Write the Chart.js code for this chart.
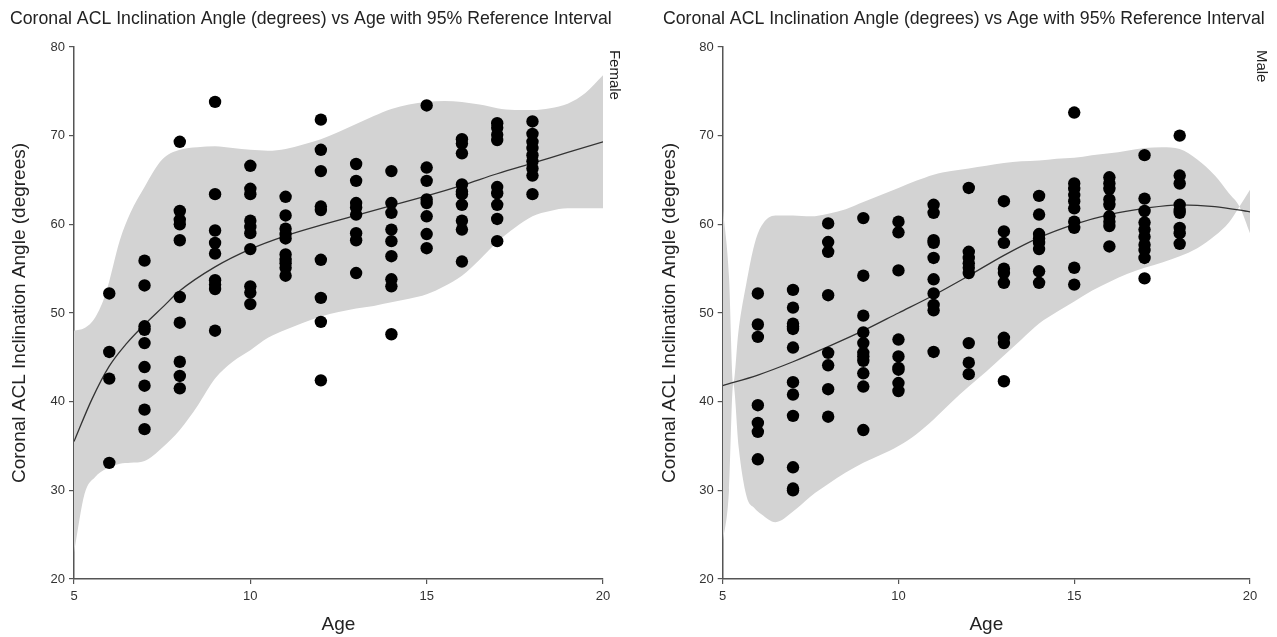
<!DOCTYPE html>
<html>
<head>
<meta charset="utf-8">
<script src="https://cdn.jsdelivr.net/npm/chart.js@4.4.0/dist/chart.umd.min.js"></script>
<style>
  body { margin: 0; background: #fff; width: 1277px; height: 637px; position: relative; overflow: hidden; }
  .panel { position: absolute; top: 0; height: 637px; }
  #female-wrap { left: 0; }
  #male-wrap { left: 653px; }
</style>
</head>
<body>
<div class="panel" id="female-wrap"><canvas id="female" width="627" height="637"></canvas></div>
<div class="panel" id="male-wrap"><canvas id="male" width="624" height="637"></canvas></div>
<script>
const TITLE = 'Coronal ACL Inclination Angle (degrees) vs Age with 95% Reference Interval';
const Y_TITLE = 'Coronal ACL Inclination Angle (degrees)';
const X_TITLE = 'Age';
const xTicks = [5, 10, 15, 20];
const yTicks = [20, 30, 40, 50, 60, 70, 80];

// observed ages (one column of dots per age)
const ages = [6, 7, 8, 9, 10, 11, 12, 13, 14, 15, 16, 17, 18];

// female angles, one list per age above
const femaleAngles = [
  [52.2, 45.6, 42.6, 33.1],
  [55.9, 53.1, 48.5, 48.1, 46.6, 43.9, 41.8, 39.1, 36.9],
  [69.3, 61.5, 60.5, 60.0, 58.2, 51.8, 48.9, 44.5, 42.9, 41.5],
  [73.8, 63.4, 59.3, 57.9, 56.7, 53.7, 53.2, 52.7, 48.0],
  [66.6, 64.0, 63.4, 60.4, 59.7, 59.0, 57.2, 53.0, 52.3, 51.0],
  [63.1, 61.0, 59.5, 58.9, 58.4, 56.6, 56.0, 55.6, 55.1, 54.2],
  [71.8, 68.4, 66.0, 62.0, 61.6, 56.0, 51.7, 49.0, 42.4],
  [66.8, 64.9, 62.4, 61.9, 61.1, 59.0, 58.2, 54.5],
  [66.0, 62.4, 61.3, 59.4, 58.1, 56.4, 53.8, 53.0, 47.6],
  [73.4, 66.4, 64.9, 62.8, 62.4, 60.9, 58.9, 57.3],
  [69.6, 69.1, 68.0, 64.5, 63.7, 63.4, 62.2, 60.4, 59.4, 55.8],
  [71.4, 70.9, 70.1, 69.5, 64.2, 63.5, 62.2, 60.6, 58.1],
  [71.6, 70.2, 69.3, 68.6, 67.8, 67.1, 66.3, 65.5, 63.4]
];

// male angles, one list per age above
const maleAngles = [
  [52.2, 48.7, 47.3, 39.6, 37.6, 36.6, 33.5],
  [52.6, 50.6, 48.8, 48.5, 48.2, 46.1, 42.2, 40.8, 38.4, 32.6, 30.2, 30.0],
  [60.1, 58.0, 56.9, 52.0, 45.5, 44.1, 41.4, 38.3],
  [60.7, 54.2, 49.7, 47.8, 46.6, 45.5, 45.1, 44.6, 43.2, 41.7, 36.8],
  [60.3, 59.1, 54.8, 47.0, 45.1, 43.8, 43.6, 42.1, 41.2],
  [62.2, 61.3, 58.2, 57.9, 56.2, 53.8, 52.2, 50.9, 50.3, 45.6],
  [64.1, 56.9, 56.2, 55.6, 55.1, 54.5, 46.6, 44.4, 43.1],
  [62.6, 59.2, 57.9, 55.0, 54.5, 53.4, 47.2, 46.6, 42.3],
  [63.2, 61.1, 58.9, 58.4, 57.9, 57.2, 54.7, 53.4],
  [72.6, 64.6, 64.0, 63.3, 62.6, 61.8, 60.3, 59.6, 55.1, 53.2],
  [65.3, 64.6, 64.0, 62.8, 62.2, 60.9, 60.3, 59.8, 57.5],
  [67.8, 62.9, 61.5, 60.2, 59.4, 58.6, 57.7, 57.1, 56.2, 53.9],
  [70.0, 65.5, 64.6, 62.2, 61.6, 61.3, 59.6, 59.0, 57.8]
];

// fitted curve
const femaleFitAge = [5, 5.5, 6, 6.5, 7, 7.5, 8, 9, 10, 11, 12, 13, 14, 15, 16, 17, 18, 19, 20];
const femaleFit = [35.5, 40.2, 44.0, 46.6, 48.7, 50.6, 52.5, 55.2, 57.2, 58.7, 59.9, 61.0, 62.1, 63.2, 64.4, 65.7, 66.9, 68.1, 69.3];
const maleFitAge = [5, 6, 7, 8, 9, 10, 11, 12, 13, 14, 15, 16, 17, 18, 19, 20];
const maleFit = [41.8, 43.0, 44.5, 46.2, 48.0, 50.0, 52.0, 54.2, 56.5, 58.5, 60.0, 61.1, 61.8, 62.2, 62.0, 61.4];

// 95% reference interval bounds
const femaleBandAge = [5, 5.3, 5.6, 5.9, 6.3, 6.6, 7, 7.5, 8, 8.5, 9, 9.5, 10, 10.5, 11, 11.5, 12, 12.5, 13, 13.5, 14, 14.5, 15, 15.5, 16, 16.5, 17, 17.5, 18, 18.5, 19, 19.5, 20];
const femaleUpper = [48.0, 48.3, 49.5, 52.2, 58.2, 61.3, 64.2, 67.3, 68.4, 68.7, 68.8, 68.6, 68.4, 68.3, 68.5, 69.0, 69.6, 70.4, 71.3, 72.2, 73.0, 73.5, 73.8, 73.9, 73.8, 73.5, 73.1, 72.9, 72.9, 73.1, 73.6, 74.8, 76.8];
const femaleLower = [23.0, 29.6, 31.5, 32.4, 33.0, 33.1, 33.3, 34.8, 36.8, 39.5, 42.6, 44.5, 45.8, 47.2, 48.1, 48.9, 49.6, 50.1, 50.5, 50.8, 51.2, 51.6, 52.1, 53.0, 54.2, 56.0, 58.0, 59.6, 60.9, 61.5, 61.8, 61.8, 61.8];
const maleBandAge = [5, 5.18, 5.3, 5.45, 5.68, 5.9, 6.1, 6.5, 7, 7.5, 8, 8.5, 9, 9.5, 10, 10.5, 11, 11.5, 12, 12.5, 13, 13.5, 14, 14.5, 15, 15.5, 16, 16.5, 17, 17.5, 18, 18.5, 19, 19.4, 19.7, 20];
const maleUpper = [62, 54, 42, 48, 53.5, 57.7, 59.8, 61.0, 61.0, 60.9, 61.2, 61.7, 62.5, 63.3, 64.1, 64.9, 65.6, 66.0, 66.3, 66.6, 66.9, 67.1, 67.2, 67.4, 67.5, 67.8, 68.0, 68.3, 68.6, 68.7, 68.5, 67.3, 65.5, 63.5, 62.0, 59.0];
const maleLower = [24, 30, 42, 35, 29.3, 28.0, 27.3, 26.4, 27.6, 29.3, 30.7, 32.0, 33.1, 34.0, 35.0, 36.3, 38.0, 39.9, 41.7, 43.4, 45.2, 47.0, 48.8, 50.1, 51.3, 52.5, 53.5, 54.4, 55.1, 55.7, 56.4, 57.3, 58.7, 60.2, 62.0, 63.9];

const FONT = "'Liberation Sans', Arial, sans-serif";
const AXIS = '#555';
const TEXT = '#222';
const BAND = '#d3d3d3';

const toXY = (xs, ys) => xs.map((x, i) => ({ x, y: ys[i] }));

// vertical facet label on the right of the plot
const stripLabel = {
  id: 'stripLabel',
  afterDraw(chart, args, opts) {
    const { ctx, chartArea } = chart;
    ctx.save();
    ctx.translate(chartArea.right + opts.dx, chartArea.top + 3);
    ctx.rotate(Math.PI / 2);
    ctx.font = '15px ' + FONT;
    ctx.fillStyle = TEXT;
    ctx.textAlign = 'left';
    ctx.textBaseline = 'middle';
    ctx.fillText(opts.text, 0, 0);
    ctx.restore();
  }
};

function makePanel(id, label, angles, fitAge, fit, bandAge, upper, lower, box) {
  const points = [];
  ages.forEach((a, i) => angles[i].forEach(v => points.push({ x: a, y: v })));

  return new Chart(document.getElementById(id), {
    type: 'scatter',
    data: {
      datasets: [
        { data: points, backgroundColor: '#000', borderWidth: 0, pointRadius: 6.2, pointHoverRadius: 6.2 },
        { data: toXY(fitAge, fit), showLine: true, borderColor: '#333', borderWidth: 1.3,
          pointRadius: 0, cubicInterpolationMode: 'monotone', fill: false },
        { data: toXY(bandAge, upper), showLine: true, borderWidth: 0, borderColor: BAND,
          backgroundColor: BAND, pointRadius: 0, cubicInterpolationMode: 'monotone', fill: '+1' },
        { data: toXY(bandAge, lower), showLine: true, borderWidth: 0, borderColor: BAND,
          pointRadius: 0, cubicInterpolationMode: 'monotone', fill: false }
      ]
    },
    options: {
      responsive: false,
      animation: false,
      events: [],
      layout: { padding: { left: box.padLeft, right: 0, bottom: 0, top: 0 } },
      plugins: {
        legend: { display: false },
        tooltip: { enabled: false },
        title: {
          display: true, text: TITLE, color: TEXT, align: 'start',
          font: { family: FONT, size: 17.7, weight: 'normal', lineHeight: 1.2 },
          padding: { top: 8, bottom: 17.7 }
        },
        stripLabel: { text: label, dx: 11 }
      },
      scales: {
        x: {
          type: 'linear', min: 5, max: 20,
          afterBuildTicks: s => { s.ticks = xTicks.map(v => ({ value: v })); },
          afterFit: s => { s.height = 58; },
          grid: { display: true, drawOnChartArea: false, drawTicks: true, tickLength: 5, color: AXIS, lineWidth: 1.2 },
          border: { display: true, color: AXIS, width: 1.5 },
          ticks: { color: '#333', font: { family: FONT, size: 13 }, padding: 5, maxRotation: 0 },
          title: { display: true, text: X_TITLE, color: TEXT, font: { family: FONT, size: 19 }, padding: { top: 0, bottom: 0.6 } }
        },
        y: {
          type: 'linear', min: 20, max: 80,
          afterBuildTicks: s => { s.ticks = yTicks.map(v => ({ value: v })); },
          afterFit: s => { s.width = box.yWidth; },
          grid: { display: true, drawOnChartArea: false, drawTicks: true, tickLength: 5, color: AXIS, lineWidth: 1.2 },
          border: { display: true, color: AXIS, width: 1.5 },
          ticks: { color: '#333', font: { family: FONT, size: 13 }, padding: 4 },
          title: { display: true, text: Y_TITLE, color: TEXT, font: { family: FONT, size: 19 }, padding: { top: box.yTitlePad, bottom: 0 } }
        },
        // empty right-hand strip that holds the facet label
        strip: {
          type: 'linear', position: 'right', min: 20, max: 80, display: true,
          afterFit: s => { s.width = box.stripWidth; },
          grid: { display: false, drawTicks: false },
          border: { display: false },
          ticks: { display: false }
        }
      }
    },
    plugins: [stripLabel]
  });
}

makePanel('female', 'Female', femaleAngles, femaleFitAge, femaleFit, femaleBandAge, femaleUpper, femaleLower,
  { padLeft: 10, yWidth: 64, stripWidth: 24, yTitlePad: -1.4 });
makePanel('male', 'Male', maleAngles, maleFitAge, maleFit, maleBandAge, maleUpper, maleLower,
  { padLeft: 10, yWidth: 59.7, stripWidth: 27, yTitlePad: -4.4 });
</script>
</body>
</html>
